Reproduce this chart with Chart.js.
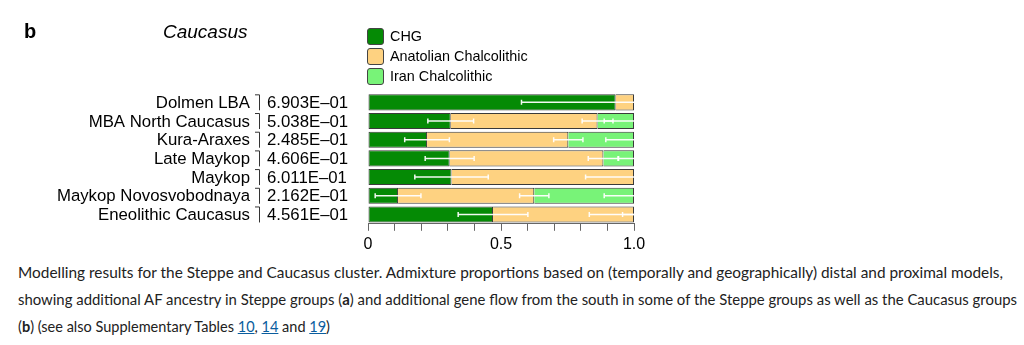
<!DOCTYPE html>
<html lang="en">
<head>
  <meta charset="UTF-8">
  <title>Caucasus admixture proportions</title>
  <script src="https://cdn.jsdelivr.net/npm/chart.js@4.4.1/dist/chart.umd.min.js"></script>
  <style>
    body { margin: 0; background: #fff; }
    #wrap { position: relative; width: 1024px; height: 345px; overflow: hidden; font-family: "Liberation Sans", Arial, sans-serif; }
    #chart { position: absolute; left: 0; top: 0; }
    .panel { position: absolute; left: 24px; top: 20px; font-size: 20px; font-weight: bold; color: #000; }
    .title { position: absolute; left: 163px; top: 21px; font-size: 19px; font-style: italic; color: #000; }
    #legend { position: absolute; left: 367px; top: 26px; }
    .item { display: flex; align-items: center; height: 20px; font-size: 14.4px; color: #000; }
    .swatch { width: 17px; height: 17px; border: 1px solid #444; border-radius: 3px; margin-right: 6px; box-sizing: border-box; }
    #caption { position: absolute; left: 18px; top: 262px; font-family: Lato, "Open Sans", sans-serif; font-size: 16px; color: #222; }
    #caption div { position: absolute; left: 0; white-space: nowrap; transform-origin: 0 50%; line-height: 20px; }
    #caption a { color: #0a5d9e; text-decoration: underline; }
  </style>
</head>
<body>
<div id="wrap">
  <canvas id="chart" width="1024" height="261"></canvas>
  <div class="panel">b</div>
  <div class="title">Caucasus</div>
  <div id="legend"></div>
  <div id="caption">
    <div data-w="985" style="top:0px">Modelling results for the Steppe and Caucasus cluster. Admixture proportions based on (temporally and geographically) distal and proximal models,</div>
    <div data-w="999" style="top:27px">showing additional AF ancestry in Steppe groups (<b>a</b>) and additional gene flow from the south in some of the Steppe groups as well as the Caucasus groups</div>
    <div data-w="312" style="top:54px">(<b>b</b>) (see also Supplementary Tables <a>10</a>, <a>14</a> and <a>19</a>)</div>
  </div>
</div>

<script>
  // populations, top to bottom
  const groups = ["Dolmen LBA", "MBA North Caucasus", "Kura-Araxes", "Late Maykop", "Maykop", "Maykop Novosvobodnaya", "Eneolithic Caucasus"];
  const pValues = ["6.903E\u201301", "5.038E\u201301", "2.485E\u201301", "4.606E\u201301", "6.011E\u201301", "2.162E\u201301", "4.561E\u201301"];

  // admixture proportions per source
  const chg       = [0.931, 0.311, 0.222, 0.307, 0.314, 0.113, 0.470];
  const anatolian = [0.069, 0.552, 0.531, 0.578, 0.686, 0.512, 0.530];
  const iran      = [0.000, 0.137, 0.247, 0.115, 0.000, 0.375, 0.000];

  // standard errors (null = not shown)
  const chgErr       = [0.354, 0.086, 0.084, 0.092, 0.138, 0.086, 0.131];
  const anatolianErr = [null, 0.058, 0.055, 0.057, 0.182, 0.055, 0.168];
  const iranErr      = [null, 0.112, 0.106, 0.060, null, 0.112, 0.043];

  const sources = [
    { label: "CHG", data: chg, err: chgErr, color: "#058a05" },
    { label: "Anatolian Chalcolithic", data: anatolian, err: anatolianErr, color: "#fed281" },
    { label: "Iran Chalcolithic", data: iran, err: iranErr, color: "#78f378" }
  ];

  // legend
  const legend = document.getElementById("legend");
  sources.forEach(s => {
    const d = document.createElement("div");
    d.className = "item";
    d.innerHTML = '<span class="swatch" style="background:' + s.color + '"></span>' + s.label;
    legend.appendChild(d);
  });

  // squeeze caption lines to the column width
  document.querySelectorAll("#caption div").forEach(el => {
    const w = el.getBoundingClientRect().width;
    el.style.transform = "scaleX(" + (parseFloat(el.dataset.w) / w) + ")";
  });

  const labelFont = '16.8px "Liberation Sans", Arial, sans-serif';

  // row labels, bracket and p-values to the left of the bars
  const rowLabels = {
    id: "rowLabels",
    afterDraw(chart) {
      const ctx = chart.ctx;
      const y = chart.scales.y;
      ctx.save();
      ctx.font = labelFont;
      ctx.fillStyle = "#000";
      ctx.textBaseline = "middle";
      groups.forEach((g, i) => {
        const yc = y.getPixelForValue(i);
        ctx.textAlign = "right";
        ctx.fillText(g, 250, yc + 1);
        ctx.textAlign = "left";
        ctx.fillText(pValues[i], 267, yc + 1);
        ctx.strokeStyle = "#333";
        ctx.lineWidth = 1;
        ctx.beginPath();
        ctx.moveTo(255, yc - 7.5);
        ctx.lineTo(259.5, yc - 7.5);
        ctx.lineTo(259.5, yc + 8);
        ctx.stroke();
      });
      ctx.restore();
    }
  };

  // white error bars at the cumulative end of each source
  const errorBars = {
    id: "errorBars",
    afterDatasetsDraw(chart) {
      const ctx = chart.ctx;
      const x = chart.scales.x;
      const y = chart.scales.y;
      ctx.save();
      ctx.strokeStyle = "rgba(255,255,255,0.95)";
      ctx.lineWidth = 1.5;
      groups.forEach((g, i) => {
        const yc = y.getPixelForValue(i);
        let cum = 0;
        sources.forEach(s => {
          cum += s.data[i];
          const e = s.err[i];
          if (e === null) return;
          const lo = cum - e, hi = cum + e;
          const x0 = x.getPixelForValue(Math.max(0, lo));
          const x1 = x.getPixelForValue(Math.min(1, hi));
          ctx.beginPath();
          ctx.moveTo(x0, yc);
          ctx.lineTo(x1, yc);
          if (lo > 0) { ctx.moveTo(x0, yc - 2.5); ctx.lineTo(x0, yc + 2.5); }
          if (hi < 1) { ctx.moveTo(x1, yc - 2.5); ctx.lineTo(x1, yc + 2.5); }
          ctx.stroke();
        });
      });
      ctx.restore();
    }
  };

  new Chart(document.getElementById("chart"), {
    type: "bar",
    data: {
      labels: groups,
      datasets: sources.map((s, k) => ({
        label: s.label,
        data: s.data,
        backgroundColor: s.color,
        borderColor: "#3a3a3a",
        borderWidth: { top: 1, bottom: 1, right: 1, left: k === 0 ? 1 : 0 },
        borderSkipped: false,
        barPercentage: 0.86,
        categoryPercentage: 1
      }))
    },
    options: {
      indexAxis: "y",
      responsive: false,
      animation: false,
      layout: { padding: { left: 368, right: 390, top: 93, bottom: 3 } },
      plugins: { legend: { display: false }, tooltip: { enabled: false } },
      scales: {
        y: { stacked: true, display: false },
        x: {
          stacked: true,
          min: 0,
          max: 1,
          grid: { drawOnChartArea: false, drawTicks: true, tickLength: 7, color: "#666" },
          border: { display: true, color: "#666" },
          ticks: {
            stepSize: 0.1,
            maxRotation: 0,
            autoSkip: false,
            padding: 4,
            color: "#000",
            font: { family: '"Liberation Sans", Arial, sans-serif', size: 16 },
            callback: v => Math.abs(v) < 1e-9 ? "0" : Math.abs(v - 0.5) < 1e-9 ? "0.5" : Math.abs(v - 1) < 1e-9 ? "1.0" : ""
          }
        }
      }
    },
    plugins: [rowLabels, errorBars]
  });
</script>
</body>
</html>
